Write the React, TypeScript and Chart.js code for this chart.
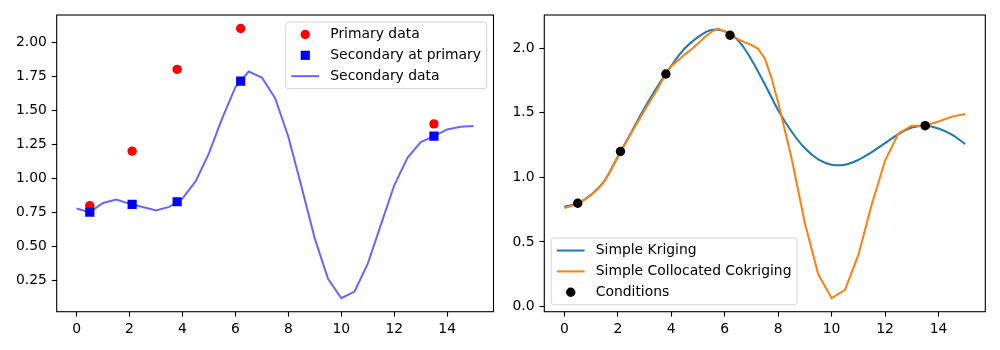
import { useEffect, useRef } from "react";
import { Chart, registerables } from "chart.js";

Chart.register(...registerables);

const FONT = '"DejaVu Sans", "Liberation Sans", sans-serif';
const FS = 13.9;

// Sampling grid of the secondary variable and the kriging estimates
const gridX = [
  0, 0.5, 1, 1.5, 2, 2.5, 3, 3.5, 4, 4.5, 5, 5.5, 6, 6.5, 7, 7.5,
  8, 8.5, 9, 9.5, 10, 10.5, 11, 11.5, 12, 12.5, 13, 13.5, 14, 14.5, 15,
];

const secondaryData = [
  0.778, 0.752, 0.819, 0.844, 0.814, 0.79, 0.765, 0.79, 0.852, 0.979, 1.183,
  1.44, 1.669, 1.784, 1.74, 1.588, 1.305, 0.937, 0.557, 0.262, 0.12, 0.169,
  0.373, 0.662, 0.949, 1.151, 1.266, 1.31, 1.359, 1.379, 1.384,
];

// Conditioning points (primary variable)
const primaryX = [0.5, 2.1, 3.8, 6.2, 13.5];
const primaryY = [0.8, 1.2, 1.8, 2.1, 1.4];
const secondaryAtPrimary = [0.752, 0.809, 0.828, 1.713, 1.31];

const krigingY = [
  0.773, 0.8, 0.866, 0.974, 1.16, 1.348, 1.536, 1.709, 1.863, 1.997, 2.085,
  2.14, 2.13, 2.06, 1.91, 1.72, 1.52, 1.355, 1.225, 1.14, 1.098, 1.098,
  1.135, 1.196, 1.265, 1.335, 1.385, 1.4, 1.378, 1.33, 1.258,
];

const cokrigingX = [
  0, 0.25, 0.5, 0.75, 1, 1.25, 1.5, 1.75, 2, 2.25, 2.5, 2.75, 3, 3.25, 3.5,
  3.75, 4, 4.25, 4.5, 4.75, 5, 5.25, 5.5, 5.75, 6, 6.25, 6.5, 6.75, 7, 7.25,
  7.5, 7.75, 8, 8.5, 9, 9.5, 10, 10.5, 11, 11.5, 12, 12.5, 13, 13.5, 14, 14.5,
  15,
];
const cokrigingY = [
  0.762, 0.778, 0.8, 0.828, 0.863, 0.91, 0.97, 1.06, 1.155, 1.25, 1.343, 1.43,
  1.52, 1.605, 1.69, 1.785, 1.86, 1.905, 1.95, 1.99, 2.035, 2.085, 2.125,
  2.152, 2.13, 2.098, 2.07, 2.045, 2.025, 1.995, 1.92, 1.77, 1.58, 1.15, 0.645,
  0.25, 0.065, 0.13, 0.4, 0.79, 1.13, 1.34, 1.4, 1.4, 1.432, 1.47, 1.49,
];

const xTicks = [0, 2, 4, 6, 8, 10, 12, 14];
const leftYTicks = [0.25, 0.5, 0.75, 1.0, 1.25, 1.5, 1.75, 2.0];
const rightYTicks = [0, 0.5, 1.0, 1.5, 2.0];

const toPoints = (xs: number[], ys: number[]) => xs.map((x, i) => ({ x, y: ys[i] }));

// Axis limits with a 5% margin around the data, like matplotlib's autoscale
const padRange = (values: number[]) => {
  const lo = Math.min(...values);
  const hi = Math.max(...values);
  const m = (hi - lo) * 0.05;
  return [lo - m, hi + m];
};

// Black box around the plotting area
const framePlugin = {
  id: "mplFrame",
  afterDatasetsDraw(chart: any) {
    const { ctx, chartArea: a } = chart;
    ctx.save();
    ctx.strokeStyle = "#000";
    ctx.lineWidth = 1.1;
    ctx.strokeRect(a.left, a.top, a.right - a.left, a.bottom - a.top);
    ctx.restore();
  },
};

type LegendItem = {
  label: string;
  kind: "circle" | "rect" | "line";
  color: string;
  size?: number;
};

// Framed legend drawn inside the axes
const legendPlugin = {
  id: "mplLegend",
  afterDraw(chart: any, _args: any, opts: any) {
    const items: LegendItem[] = opts.items || [];
    if (!items.length) return;
    const { ctx, chartArea: a } = chart;
    ctx.save();
    ctx.font = `${FS}px ${FONT}`;
    const textW = Math.max(...items.map((it) => ctx.measureText(it.label).width));
    const pad = 0.4 * FS;
    const handleLen = 2 * FS;
    const handleGap = 0.8 * FS;
    const rowH = FS;
    const spacing = 0.5 * FS;
    const w = pad * 2 + handleLen + handleGap + textW;
    const h = pad * 2 + items.length * rowH + (items.length - 1) * spacing;
    const off = 0.5 * FS;
    const x0 = opts.loc === "lower left" ? a.left + off : a.right - off - w;
    const y0 = opts.loc === "lower left" ? a.bottom - off - h : a.top + off;

    ctx.beginPath();
    ctx.roundRect(x0, y0, w, h, 0.2 * FS);
    ctx.fillStyle = "rgba(255,255,255,0.8)";
    ctx.fill();
    ctx.strokeStyle = "rgba(204,204,204,0.8)";
    ctx.lineWidth = 1;
    ctx.stroke();

    items.forEach((it, i) => {
      const cy = y0 + pad + rowH / 2 + i * (rowH + spacing);
      const hx = x0 + pad;
      const cx = hx + handleLen / 2;
      ctx.fillStyle = it.color;
      ctx.strokeStyle = it.color;
      if (it.kind === "line") {
        ctx.lineWidth = 2;
        ctx.beginPath();
        ctx.moveTo(hx, cy);
        ctx.lineTo(hx + handleLen, cy);
        ctx.stroke();
      } else if (it.kind === "circle") {
        ctx.beginPath();
        ctx.arc(cx, cy, it.size || 4.7, 0, Math.PI * 2);
        ctx.fill();
      } else {
        const s = it.size || 9.2;
        ctx.fillRect(cx - s / 2, cy - s / 2, s, s);
      }
      ctx.fillStyle = "#000";
      ctx.textBaseline = "middle";
      ctx.textAlign = "left";
      ctx.fillText(it.label, hx + handleLen + handleGap, cy);
    });
    ctx.restore();
  },
};

const tickFont = { family: FONT, size: FS };

const makeX = (height: number) => {
  const [min, max] = padRange(gridX);
  return {
    type: "linear",
    min,
    max,
    afterBuildTicks: (s: any) => {
      s.ticks = xTicks.map((v) => ({ value: v }));
    },
    afterFit: (s: any) => {
      s.height = height;
    },
    grid: {
      display: true,
      drawOnChartArea: false,
      drawTicks: true,
      tickLength: 4.9,
      tickWidth: 1.1,
      tickColor: "#000",
    },
    border: { display: false },
    ticks: {
      color: "#000",
      font: tickFont,
      padding: 4.9,
      maxRotation: 0,
      autoSkip: false,
      callback: (v: any) => String(v),
    },
  };
};

const makeY = (width: number, range: number[], ticks: number[], digits: number) => ({
  type: "linear",
  min: range[0],
  max: range[1],
  afterBuildTicks: (s: any) => {
    s.ticks = ticks.map((v) => ({ value: v }));
  },
  afterFit: (s: any) => {
    s.width = width;
  },
  grid: {
    display: true,
    drawOnChartArea: false,
    drawTicks: true,
    tickLength: 4.9,
    tickWidth: 1.1,
    tickColor: "#000",
  },
  border: { display: false },
  ticks: {
    color: "#000",
    font: tickFont,
    padding: 4.9,
    autoSkip: false,
    callback: (v: any) => Number(v).toFixed(digits),
  },
});

export default function App() {
  const leftRef = useRef<HTMLCanvasElement>(null);
  const rightRef = useRef<HTMLCanvasElement>(null);

  useEffect(() => {
    if (!leftRef.current || !rightRef.current) return;

    const leftRange = padRange([...secondaryData, ...primaryY, ...secondaryAtPrimary]);
    const rightRange = padRange([...krigingY, ...cokrigingY, ...primaryY]);

    const left = new Chart(leftRef.current, {
      type: "scatter",
      data: {
        datasets: [
          {
            label: "Secondary at primary",
            data: toPoints(primaryX, secondaryAtPrimary),
            pointStyle: "rect",
            pointRadius: 6.5,
            backgroundColor: "#0000ff",
            borderWidth: 0,
            showLine: false,
          },
          {
            label: "Primary data",
            data: toPoints(primaryX, primaryY),
            pointStyle: "circle",
            pointRadius: 4.7,
            backgroundColor: "#ff0000",
            borderWidth: 0,
            showLine: false,
          },
          {
            label: "Secondary data",
            data: toPoints(gridX, secondaryData),
            showLine: true,
            pointRadius: 0,
            borderColor: "rgba(0,0,255,0.6)",
            borderWidth: 2,
            tension: 0,
          },
        ],
      },
      options: {
        responsive: false,
        animation: false,
        devicePixelRatio: 1,
        layout: { padding: { left: 0, right: 2.7, top: 15, bottom: 0 } },
        scales: {
          x: makeX(38.3),
          y: makeY(56.7, leftRange, leftYTicks, 2),
        } as any,
        plugins: {
          legend: { display: false },
          tooltip: { enabled: false },
          mplLegend: {
            loc: "upper right",
            items: [
              { label: "Primary data", kind: "circle", color: "#ff0000" },
              { label: "Secondary at primary", kind: "rect", color: "#0000ff" },
              { label: "Secondary data", kind: "line", color: "rgba(0,0,255,0.6)" },
            ],
          },
        } as any,
      },
      plugins: [framePlugin, legendPlugin],
    });

    const right = new Chart(rightRef.current, {
      type: "scatter",
      data: {
        datasets: [
          {
            label: "Conditions",
            data: toPoints(primaryX, primaryY),
            pointStyle: "circle",
            pointRadius: 4.7,
            backgroundColor: "#000000",
            borderWidth: 0,
            showLine: false,
          },
          {
            label: "Simple Collocated Cokriging",
            data: toPoints(cokrigingX, cokrigingY),
            showLine: true,
            pointRadius: 0,
            borderColor: "#ff7f0e",
            borderWidth: 2,
            tension: 0,
          },
          {
            label: "Simple Kriging",
            data: toPoints(gridX, krigingY),
            showLine: true,
            pointRadius: 0,
            borderColor: "#1f77b4",
            borderWidth: 2,
            tension: 0.4,
          },
        ],
      },
      options: {
        responsive: false,
        animation: false,
        devicePixelRatio: 1,
        layout: { padding: { left: 0, right: 14.7, top: 15, bottom: 0 } },
        scales: {
          x: makeX(38.3),
          y: makeY(44.3, rightRange, rightYTicks, 1),
        } as any,
        plugins: {
          legend: { display: false },
          tooltip: { enabled: false },
          mplLegend: {
            loc: "lower left",
            items: [
              { label: "Simple Kriging", kind: "line", color: "#1f77b4" },
              { label: "Simple Collocated Cokriging", kind: "line", color: "#ff7f0e" },
              { label: "Conditions", kind: "circle", color: "#000000" },
            ],
          },
        } as any,
      },
      plugins: [framePlugin, legendPlugin],
    });

    return () => {
      left.destroy();
      right.destroy();
    };
  }, []);

  return (
    <div
      style={{
        position: "fixed",
        left: 0,
        top: 0,
        width: 1000,
        height: 350,
        background: "#fff",
      }}
    >
      <canvas
        ref={leftRef}
        width={500}
        height={350}
        style={{ position: "absolute", left: 0, top: 0, width: 500, height: 350 }}
      />
      <canvas
        ref={rightRef}
        width={500}
        height={350}
        style={{ position: "absolute", left: 500, top: 0, width: 500, height: 350 }}
      />
    </div>
  );
}
